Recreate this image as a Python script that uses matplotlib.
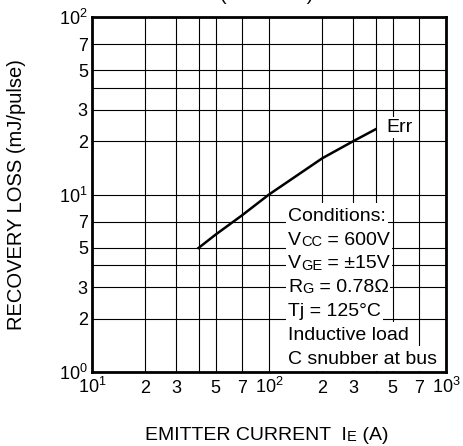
import matplotlib
matplotlib.use('Agg')
import matplotlib.pyplot as plt
from matplotlib.patches import Rectangle

plt.rcParams['font.family'] = ['Liberation Sans', 'DejaVu Sans']
plt.rcParams['mathtext.fontset'] = 'custom'
plt.rcParams['mathtext.rm'] = 'Liberation Sans'
plt.rcParams['mathtext.default'] = 'regular'

# data
emitter_current = [40, 50, 70, 100, 200, 300, 400]   # A
recovery_loss = [5.0, 5.95, 7.6, 10.0, 16.0, 20.0, 23.3]  # mJ/pulse

x_ticks = [10, 20, 30, 40, 50, 70, 100, 200, 300, 400, 500, 700, 1000]
x_ticklabels = [r'$10^{1}$', '2', '3', '', '5', '7', r'$10^{2}$', '2', '3', '', '5', '7', r'$10^{3}$']
y_ticks = [1, 2, 3, 4, 5, 7, 10, 20, 30, 40, 50, 70, 100]
y_ticklabels = [r'$10^{0}$', '2', '3', '', '5', '7', r'$10^{1}$', '2', '3', '', '5', '7', r'$10^{2}$']

conditions = [
    [('Conditions:', 1)],
    [('V', 1), ('CC', 0.75), (' = 600V', 1)],
    [('V', 1), ('GE', 0.75), (' = \u00b115V', 1)],
    [('R', 1), ('G', 0.75), (' = 0.78\u03a9', 1)],
    [('Tj = 125\u00b0C', 1)],
    [('Inductive load', 1)],
    [('C snubber at bus', 1)],
]

W, H = 463, 446
fig = plt.figure(figsize=(W / 100, H / 100), dpi=100)
ax = fig.add_axes([92 / W, 1 - 372 / H, 354 / W, 355 / H])

ax.set_xscale('log')
ax.set_yscale('log')
ax.set_xlim(10, 1000)
ax.set_ylim(1, 100)

ax.xaxis.set_minor_locator(matplotlib.ticker.NullLocator())
ax.yaxis.set_minor_locator(matplotlib.ticker.NullLocator())
ax.set_xticks(x_ticks)
ax.set_xticklabels(x_ticklabels)
ax.set_yticks(y_ticks)
ax.set_yticklabels(y_ticklabels)
ax.tick_params(length=0, labelsize=13)
ax.tick_params(axis='x', pad=15)
ax.tick_params(axis='y', pad=3)
for lab in ax.get_xticklabels():
    lab.set_verticalalignment('baseline')

ax.grid(True, color='black', linewidth=0.8)
ax.set_axisbelow(True)
for sp in ax.spines.values():
    sp.set_linewidth(2.0)

ax.plot(emitter_current, recovery_loss, color='black', linewidth=1.8, zorder=2)

fs = 14


def rich_line(x, y, parts):
    # pieces of one line, small caps sit on the same baseline
    first = ax.text(x, y, parts[0][0], transform=ax.transAxes, fontsize=fs * parts[0][1],
                    va='baseline', zorder=4)
    prev = first
    for txt, sc in parts[1:]:
        prev = ax.annotate(txt, xy=(1, 0), xycoords=prev, fontsize=fs * sc,
                           va='bottom', ha='left', zorder=4)
    return first, prev


cond_x = (288 - 92) / 354
base0 = (372 - 220.7) / 355
step = 23.9 / 355
lines = []
for i, parts in enumerate(conditions):
    y = base0 - i * step
    lines.append((y, rich_line(cond_x, y, parts)))

ax.text((386 - 92) / 354, (372 - 132) / 355, 'Err', transform=ax.transAxes, fontsize=fs,
        va='baseline', bbox=dict(facecolor='white', edgecolor='none', boxstyle='square,pad=0.1'),
        zorder=3)

# axis labels
fig.text(17 / W, 1 - 194.5 / H, 'RECOVERY LOSS (mJ/pulse)', rotation=90, fontsize=14.5,
         ha='center', va='center')
t = fig.text(145 / W, 1 - 440 / H, 'EMITTER CURRENT  I', fontsize=fs, va='baseline')
t = ax.annotate('E', xy=(1, 0), xycoords=t, fontsize=fs * 0.75, va='bottom', annotation_clip=False)
ax.annotate(' (A)', xy=(1, 0), xycoords=t, fontsize=fs, va='bottom', annotation_clip=False)

# title is cut off at the top edge of the image
fig.text(267 / W, 1.0, '(TYPICAL)', fontsize=fs, ha='center', va='baseline')

# white backing behind each condition line so the grid stops at the text
fig.canvas.draw()
r = fig.canvas.get_renderer()
inv = ax.transAxes.inverted()
for y, (first, last) in lines:
    x0 = inv.transform(first.get_window_extent(r).p0)[0] - 2 / 354
    x1 = inv.transform(last.get_window_extent(r).p1)[0] + 2 / 354
    ax.add_patch(Rectangle((x0, y - 6.5 / 355), x1 - x0, 24.5 / 355, transform=ax.transAxes,
                           facecolor='white', edgecolor='none', zorder=3))

fig.savefig('out.png', dpi=100)
